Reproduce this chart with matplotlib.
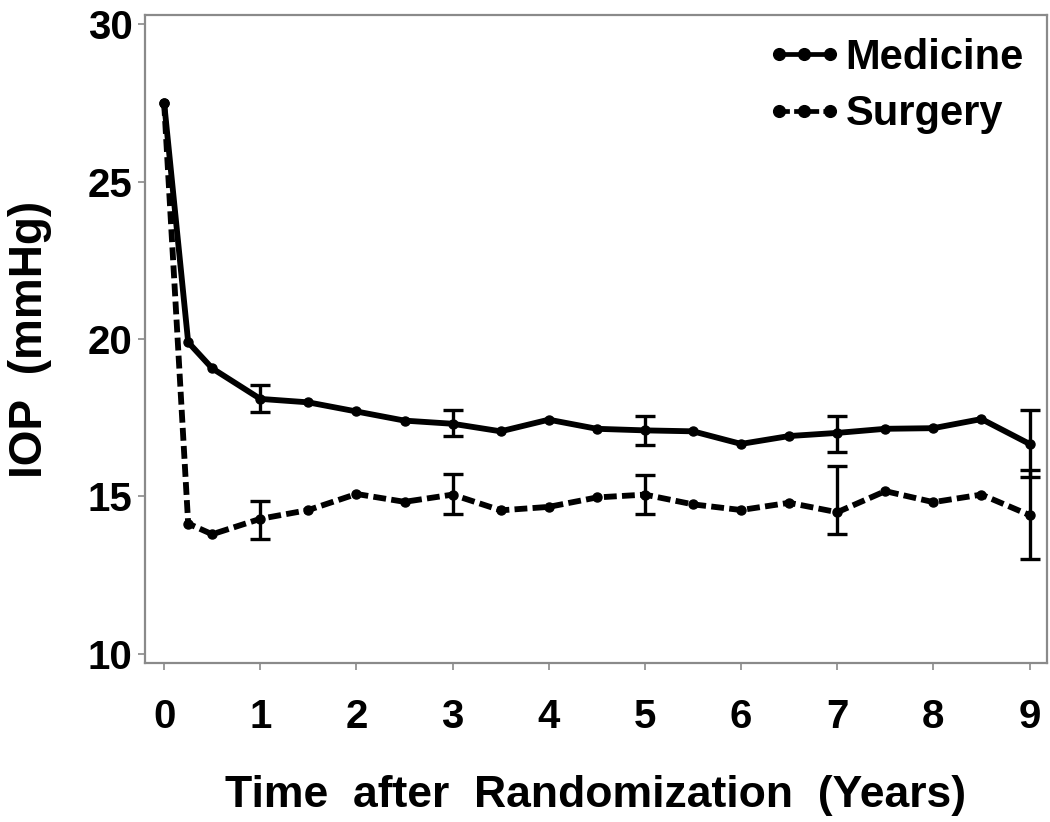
import matplotlib.pyplot as plt
import numpy as np

plt.rcParams['font.family'] = ['Liberation Sans', 'DejaVu Sans']
plt.rcParams['font.weight'] = 'bold'

years = np.array([0, 0.25, 0.5, 1, 1.5, 2, 2.5, 3, 3.5, 4, 4.5,
                  5, 5.5, 6, 6.5, 7, 7.5, 8, 8.5, 9])
medicine = np.array([27.5, 19.9, 19.07, 18.1, 17.99, 17.70, 17.41, 17.31, 17.07, 17.44, 17.15,
                     17.10, 17.07, 16.67, 16.92, 17.02, 17.15, 17.17, 17.46, 16.67])
surgery = np.array([27.5, 14.14, 13.8, 14.29, 14.57, 15.08, 14.83, 15.06, 14.56, 14.67, 14.97,
                    15.06, 14.75, 14.57, 14.8, 14.5, 15.17, 14.82, 15.06, 14.41])

err_years = np.array([1, 3, 5, 7, 9])
med_err_mean = np.array([18.1, 17.31, 17.10, 17.02, 16.67])
med_err_lo = np.array([17.68, 16.92, 16.64, 16.42, 15.62])
med_err_hi = np.array([18.54, 17.75, 17.55, 17.57, 17.75])
sur_err_mean = np.array([14.29, 15.06, 15.06, 14.5, 14.41])
sur_err_lo = np.array([13.66, 14.43, 14.43, 13.8, 13.0])
sur_err_hi = np.array([14.85, 15.7, 15.68, 15.98, 15.84])

fig = plt.figure(figsize=(10.5, 8.22), dpi=100)
ax = fig.add_axes([0.138, 0.193, 0.859, 0.789])

ax.plot(years, medicine, color='black', lw=4.2, marker='o', ms=6.5,
        label='Medicine')
ax.plot(years, surgery, color='black', lw=4.2, marker='o', ms=6.5,
        dashes=(2.2, 0.9), label='Surgery')

ax.errorbar(err_years, med_err_mean,
            yerr=[med_err_mean - med_err_lo, med_err_hi - med_err_mean],
            fmt='none', ecolor='black', elinewidth=2.4, capsize=7.5, capthick=2.4)
ax.errorbar(err_years, sur_err_mean,
            yerr=[sur_err_mean - sur_err_lo, sur_err_hi - sur_err_mean],
            fmt='none', ecolor='black', elinewidth=2.4, capsize=7.5, capthick=2.4)

ax.set_xlim(-0.2, 9.18)
ax.set_ylim(9.7, 30.3)
ax.set_xticks(range(10))
ax.set_yticks([10, 15, 20, 25, 30])

for s in ax.spines.values():
    s.set_color('#8a8a8a')
    s.set_linewidth(1.6)
ax.tick_params(direction='out', length=5, width=1.2, color='#8a8a8a',
               labelsize=29, pad=4)
ax.tick_params(axis='x', pad=20)

ax.set_xlabel('Time  after  Randomization  (Years)', fontsize=32,
              fontweight='bold', labelpad=28)
ax.set_ylabel('IOP  (mmHg)', fontsize=33, fontweight='bold', labelpad=26)

leg = ax.legend(loc='upper right', frameon=False, fontsize=30, numpoints=3,
                handlelength=1.82, handletextpad=0.08, labelspacing=0.4,
                markerscale=1.3, borderaxespad=0.15, borderpad=0.4)
for h in leg.get_lines():
    h.set_linewidth(3.4)

fig.savefig('out.png', dpi=100)
